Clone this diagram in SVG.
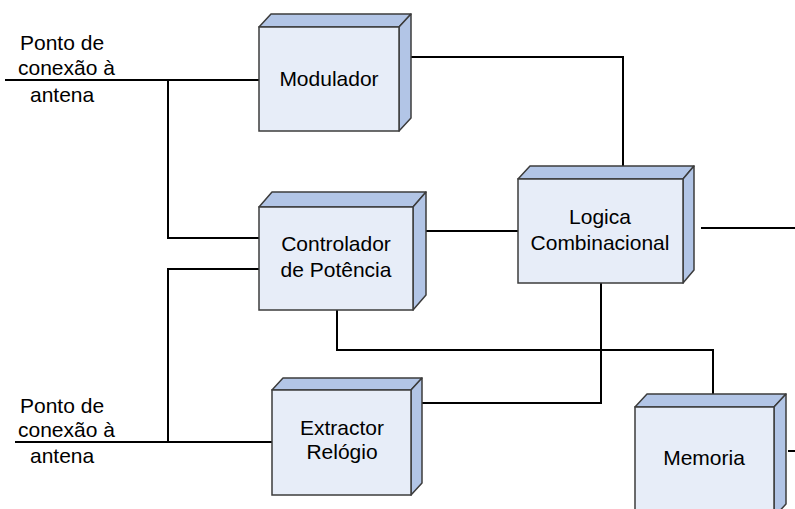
<svg xmlns="http://www.w3.org/2000/svg" width="795" height="509" viewBox="0 0 795 509">
<style>
.front{fill:#e7edf8;stroke:#3c3c3c;stroke-width:1.5}
.face{fill:#b2c5e6;stroke:#3c3c3c;stroke-width:1.5;stroke-linejoin:round}
.wire{fill:none;stroke:#000;stroke-width:2}
text{font-family:"Liberation Sans",Arial,sans-serif;font-size:21px;fill:#000}
.c{text-anchor:middle}
</style>
<rect width="795" height="509" fill="#fff"/>
<g id="connectors">
<polyline class="wire" points="5,80 259,80"/>
<polyline class="wire" points="168,80 168,238 259,238"/>
<polyline class="wire" points="411,57 623,57 623,166"/>
<polyline class="wire" points="426,231 518,231"/>
<polyline class="wire" points="701,228 795,228"/>
<polyline class="wire" points="601,283 601,403 422,403"/>
<polyline class="wire" points="337,310 337,350 713,350 713,394"/>
<polyline class="wire" points="15,442 272,442"/>
<polyline class="wire" points="168,442 168,269 259,269"/>
<polyline class="wire" points="788,451 795,451"/>
</g>
<g id="antenna1">
<text x="20" y="50">Ponto de</text>
<text x="18" y="75">conexão à</text>
<text x="30" y="102">antena</text>
</g>
<g id="antenna2">
<text x="20" y="413">Ponto de</text>
<text x="18" y="437">conexão à</text>
<text x="30" y="463">antena</text>
</g>
<g id="modulador">
<polygon class="face" points="259,27 271,14 411,14 399,27"/>
<polygon class="face" points="399,27 411,14 411,118 399,131"/>
<rect class="front" x="259" y="27" width="140" height="104"/>
<text class="c" x="329" y="86">Modulador</text>
</g>
<g id="controlador">
<polygon class="face" points="259,207 272,192 426,192 413,207"/>
<polygon class="face" points="413,207 426,192 426,295 413,310"/>
<rect class="front" x="259" y="207" width="154" height="103"/>
<text class="c" x="336" y="251">Controlador</text>
<text class="c" x="336" y="277">de Potência</text>
</g>
<g id="logica">
<polygon class="face" points="518,179 530,166 694,166 683,179"/>
<polygon class="face" points="683,179 694,166 694,270 683,283"/>
<rect class="front" x="518" y="179" width="165" height="104"/>
<text class="c" x="600" y="224">Logica</text>
<text class="c" x="600" y="250">Combinacional</text>
</g>
<g id="extractor">
<polygon class="face" points="272,390 283,378 422,378 411,390"/>
<polygon class="face" points="411,390 422,378 422,483 411,495"/>
<rect class="front" x="272" y="390" width="139" height="105"/>
<text class="c" x="342" y="435">Extractor</text>
<text class="c" x="342" y="459">Relógio</text>
</g>
<g id="memoria">
<polygon class="face" points="635,407 647,394 786,394 774,407"/>
<polygon class="face" points="774,407 786,394 786,504 774,517"/>
<rect class="front" x="635" y="407" width="139" height="110"/>
<text class="c" x="704" y="465">Memoria</text>
</g>
</svg>
